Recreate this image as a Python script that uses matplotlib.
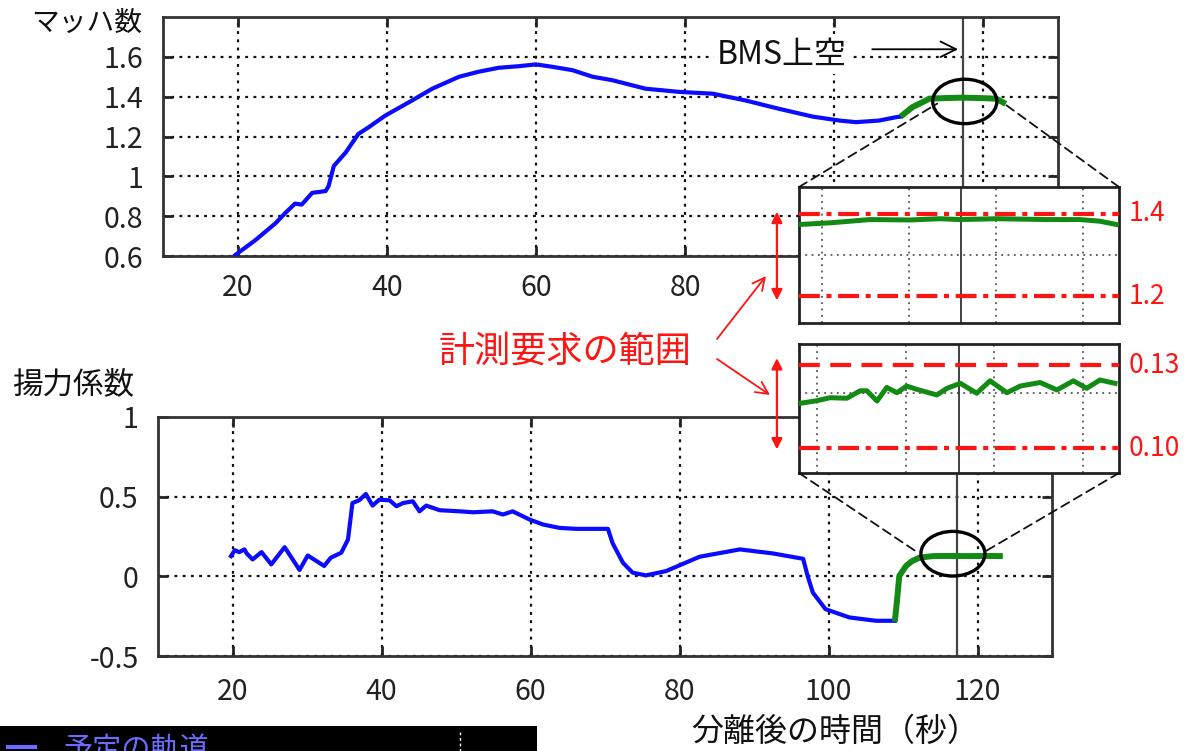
import matplotlib
matplotlib.use('Agg')
import matplotlib.pyplot as plt
from matplotlib.patches import Ellipse, ConnectionPatch, FancyArrowPatch, Rectangle
from matplotlib.lines import Line2D

plt.rcParams['font.family'] = ['Noto Sans CJK JP', 'DejaVu Sans']

# ---------------- data ----------------
x_ticks = [20, 40, 60, 80, 100, 120]
mach_yticks = [0.6, 0.8, 1.0, 1.2, 1.4, 1.6]
mach_ylabels = ['0.6', '0.8', '1', '1.2', '1.4', '1.6']
cl_yticks = [-0.5, 0.0, 0.5, 1.0]
cl_ylabels = ['-0.5', '0', '0.5', '1']

# Mach number, planned trajectory (blue)
mach_t = [19.7, 22.4, 25.1, 26.4, 27.7, 28.6, 30.0, 31.8, 32.2, 32.9, 34.5, 36.2, 37.6,
          39.8, 43.4, 46.1, 49.7, 52.3, 55.0, 57.7, 60.0, 62.2, 64.9, 67.6, 70.2, 74.7,
          79.2, 83.7, 88.1, 92.6, 97.1, 100.7, 102.9, 106.0, 108.3, 108.9]
mach = [0.605, 0.68, 0.765, 0.816, 0.863, 0.858, 0.917, 0.926, 0.951, 1.052, 1.12, 1.213, 1.247,
        1.305, 1.381, 1.44, 1.50, 1.525, 1.545, 1.553, 1.562, 1.550, 1.533, 1.50, 1.483, 1.44,
        1.424, 1.415, 1.381, 1.339, 1.30, 1.28, 1.272, 1.28, 1.297, 1.30]
# Mach number, measurement segment (green)
mach_g_t = [108.9, 110.5, 112.8, 115.0, 117.0, 119.5, 121.7, 123.0]
mach_g = [1.30, 1.348, 1.39, 1.393, 1.395, 1.393, 1.39, 1.364]

# Lift coefficient (blue)
cl_t = [19.8, 20.3, 20.9, 21.6, 21.9, 22.7, 23.9, 25.2, 27.0, 29.0, 30.1, 32.3, 33.2, 34.6,
        35.5, 36.1, 37.0, 37.9, 38.8, 39.7, 41.1, 42.0, 42.9, 44.2, 45.1, 46.0, 47.8, 50.5,
        52.3, 54.9, 56.3, 57.6, 59.9, 61.7, 63.9, 66.1, 70.4, 71.0, 72.4, 73.7, 75.5, 78.2,
        82.7, 88.1, 92.5, 96.6, 97.2, 97.9, 99.6, 102.8, 106.4, 108.9]
cl = [0.127, 0.164, 0.152, 0.169, 0.144, 0.106, 0.152, 0.075, 0.183, 0.040, 0.131, 0.065, 0.117, 0.148,
      0.231, 0.46, 0.477, 0.517, 0.444, 0.481, 0.477, 0.440, 0.46, 0.471, 0.408, 0.444, 0.415, 0.408,
      0.402, 0.408, 0.388, 0.408, 0.356, 0.325, 0.304, 0.298, 0.298, 0.21, 0.086, 0.023, 0.006, 0.033,
      0.123, 0.169, 0.144, 0.11, 0.002, -0.102, -0.206, -0.258, -0.279, -0.279]
cl_g_t = [108.9, 109.2, 109.5, 110.4, 111.2, 112.2, 114.0, 116.0, 118.5, 121.0, 123.4]
cl_g = [-0.285, -0.15, 0.002, 0.065, 0.095, 0.117, 0.127, 0.128, 0.127, 0.128, 0.127]

# zoomed views
mach_z_t = [113.47, 114.18, 115.10, 116.02, 116.71, 117.17, 118.01, 119.17, 119.93, 120.39, 120.77]
mach_z = [1.374, 1.378, 1.386, 1.385, 1.388, 1.386, 1.388, 1.386, 1.386, 1.382, 1.374]
cl_z_t = [113.59, 113.99, 114.29, 114.67, 114.97, 115.12, 115.35, 115.57, 115.80, 116.02, 116.25,
          116.70, 116.93, 117.23, 117.60, 117.90, 118.28, 118.58, 119.03, 119.41, 119.78, 120.08,
          120.38, 120.72]
cl_z = [0.1161, 0.1171, 0.1182, 0.1180, 0.1207, 0.1207, 0.1170, 0.1219, 0.1200, 0.1224, 0.1212,
        0.1192, 0.1216, 0.1234, 0.1198, 0.1243, 0.1200, 0.1224, 0.1237, 0.1210, 0.1243, 0.1216,
        0.1246, 0.1234]

bms_time = 117.2
mach_req = [1.2, 1.4]
cl_req = [0.10, 0.13]
mach_req_labels = ['1.2', '1.4']
cl_req_labels = ['0.10', '0.13']

# ---------------- figure ----------------
W, H = 1187, 751
fig = plt.figure(figsize=(W / 100, H / 100), dpi=100)


def fr(x0, y0, x1, y1):
    return [x0 / W, 1 - y1 / H, (x1 - x0) / W, (y1 - y0) / H]


def fp(x, y):
    return (x / W, 1 - y / H)


BLUE = '#0b0bff'
GREEN = '#138a13'
RED = '#ff1414'
DARK = '#222222'

ax1 = fig.add_axes(fr(163, 17, 1058, 256))
ax2 = fig.add_axes(fr(158, 417, 1052, 656))


def style_main(ax, yticks, ylabels, ylim, xpad):
    ax.set_xlim(10, 130)
    ax.set_ylim(*ylim)
    ax.set_xticks(x_ticks)
    ax.set_xticklabels([str(v) for v in x_ticks])
    ax.set_yticks(yticks)
    ax.set_yticklabels(ylabels)
    ax.grid(True, color='#111111', linestyle=(0, (1.3, 2.4)), lw=1.6)
    ax.tick_params(axis='both', direction='in', length=7, width=2, top=True, right=True,
                   labelsize=20.5, colors=DARK)
    ax.tick_params(axis='y', pad=14)
    ax.tick_params(axis='x', pad=xpad)
    for s in ax.spines.values():
        s.set_linewidth(2)
        s.set_color('#333333')


style_main(ax1, mach_yticks, mach_ylabels, (0.6, 1.8), 12)
style_main(ax2, cl_yticks, cl_ylabels, (-0.5, 1.0), 15)

ax1.plot(mach_t, mach, color=BLUE, lw=3.0, zorder=3, solid_joinstyle='round')
ax1.plot(mach_g_t, mach_g, color=GREEN, lw=4.3, zorder=3, solid_capstyle='butt')
ax2.plot(cl_t, cl, color=BLUE, lw=3.0, zorder=3, solid_joinstyle='round')
ax2.plot(cl_g_t, cl_g, color=GREEN, lw=4.3, zorder=3, solid_capstyle='butt')

for ax in (ax1, ax2):
    ax.axvline(bms_time, color='#444444', lw=1.6, zorder=2)

ax1.add_patch(Ellipse((117.5, 1.376), 8.6, 0.223, fill=False, lw=2.4, ec='black', zorder=5))
ax2.add_patch(Ellipse((116.7, 0.142), 8.6, 0.28, fill=False, lw=2.4, ec='black', zorder=5))

ax1.text(93.0, 1.609, 'BMS上空', fontsize=23, ha='center', va='center', color='#111111',
         bbox=dict(fc='white', ec='none', pad=2), zorder=4)
ax1.annotate('', xy=(116.6, 1.638), xytext=(105.1, 1.638),
             arrowprops=dict(arrowstyle='->', lw=1.3, color='black', mutation_scale=28,
                             shrinkA=0, shrinkB=0), zorder=4)

# ---------------- insets ----------------
ins1 = fig.add_axes(fr(799, 187, 1119, 323))
ins2 = fig.add_axes(fr(799, 344, 1119, 473))

for ins, xl, yl, yt in ((ins1, (113.47, 120.83), (1.135, 1.465), [1.3]),
                        (ins2, (113.59, 120.81), (0.091, 0.1376), [0.12])):
    ins.set_xlim(*xl)
    ins.set_ylim(*yl)
    ins.set_xticks([114, 116, 118, 120])
    ins.set_yticks(yt)
    ins.grid(True, color='#555555', linestyle=(0, (1, 2.5)), lw=1.3)
    ins.tick_params(length=0, labelbottom=False, labelleft=False)
    for s in ins.spines.values():
        s.set_linewidth(2)
        s.set_color('#222222')
    ins.axvline(bms_time, color='#333333', lw=1.3, zorder=2)

for v in mach_req:
    ins1.axhline(v, color=RED, lw=3.0, linestyle=(0, (5, 1.6, 1.2, 1.6)), zorder=3)
ins2.axhline(cl_req[0], color=RED, lw=3.0, linestyle=(0, (5, 1.6, 1.2, 1.6)), zorder=3)
ins2.axhline(cl_req[1], color=RED, lw=3.0, linestyle=(0, (5, 2.5)), zorder=3)

ins1.plot(mach_z_t, mach_z, color=GREEN, lw=3.6, zorder=4, solid_joinstyle='round')
ins2.plot(cl_z_t, cl_z, color=GREEN, lw=3.6, zorder=4, solid_joinstyle='round')

for v, lab in zip(mach_req, mach_req_labels):
    ins1.text(1.03, v, lab, transform=ins1.get_yaxis_transform(), color=RED, fontsize=19,
              ha='left', va='center')
for v, lab in zip(cl_req, cl_req_labels):
    ins2.text(1.03, v, lab, transform=ins2.get_yaxis_transform(), color=RED, fontsize=19,
              ha='left', va='center')

# red double arrows on the left of the insets
for ins, (lo, hi) in ((ins1, (1.19, 1.405)), (ins2, (0.0995, 0.1325))):
    arr = FancyArrowPatch((-0.069, lo), (-0.069, hi), transform=ins.get_yaxis_transform(),
                          arrowstyle='<|-|>', mutation_scale=16, lw=1.6, color=RED,
                          shrinkA=0, shrinkB=0, clip_on=False)
    fig.add_artist(arr)

# dashed connectors from ellipses to insets
conns = [
    (ins1, (0, 1), ax1, (113.8, 1.365)),
    (ins1, (1, 1), ax1, (122.6, 1.37)),
    (ins2, (0, 0), ax2, (111.7, 0.158)),
    (ins2, (1, 0), ax2, (121.1, 0.158)),
]
for ins, a, ax, b in conns:
    cp = ConnectionPatch(xyA=a, coordsA=ins.transAxes, xyB=b, coordsB=ax.transData,
                         linestyle=(0, (5, 3)), lw=1.3, color='#111111')
    fig.add_artist(cp)

# red text and arrows
fig.text(*fp(565, 352), '計測要求の範囲', color=RED, fontsize=26, ha='center', va='center')
for start, end in (((717, 339), (766, 276)), ((717, 359), (770, 395))):
    fig.add_artist(FancyArrowPatch(fp(*start), fp(*end), transform=fig.transFigure,
                                   arrowstyle='->', mutation_scale=22, lw=1.3, color=RED,
                                   shrinkA=0, shrinkB=0))

# axis titles
fig.text(*fp(142, 23), 'マッハ数', fontsize=20, ha='right', va='center', color='#111111')
fig.text(*fp(12, 385), '揚力係数', fontsize=22, ha='left', va='center', color='#111111')
fig.text(*fp(835, 732), '分離後の時間（秒）', fontsize=23, ha='center', va='center',
         color='#111111')

# black legend strip at bottom-left (cut off by the image edge, as in the source)
fig.add_artist(Rectangle(fp(0, 751), 537 / W, 25 / H, transform=fig.transFigure,
                         fc='black', ec='none'))
fig.add_artist(Line2D([fp(8, 0)[0], fp(35, 0)[0]], [fp(0, 747)[1]] * 2,
                      transform=fig.transFigure, color='#6b6bff', lw=3))
fig.text(*fp(63, 735), '予定の軌道', color='#6b6bff', fontsize=21, ha='left', va='top')
fig.add_artist(Line2D([fp(460, 0)[0]] * 2, [fp(0, 732)[1], fp(0, 751)[1]],
                      transform=fig.transFigure, color='white', lw=1, linestyle=(0, (2, 2))))

fig.savefig('out.png', dpi=100, facecolor='white')
